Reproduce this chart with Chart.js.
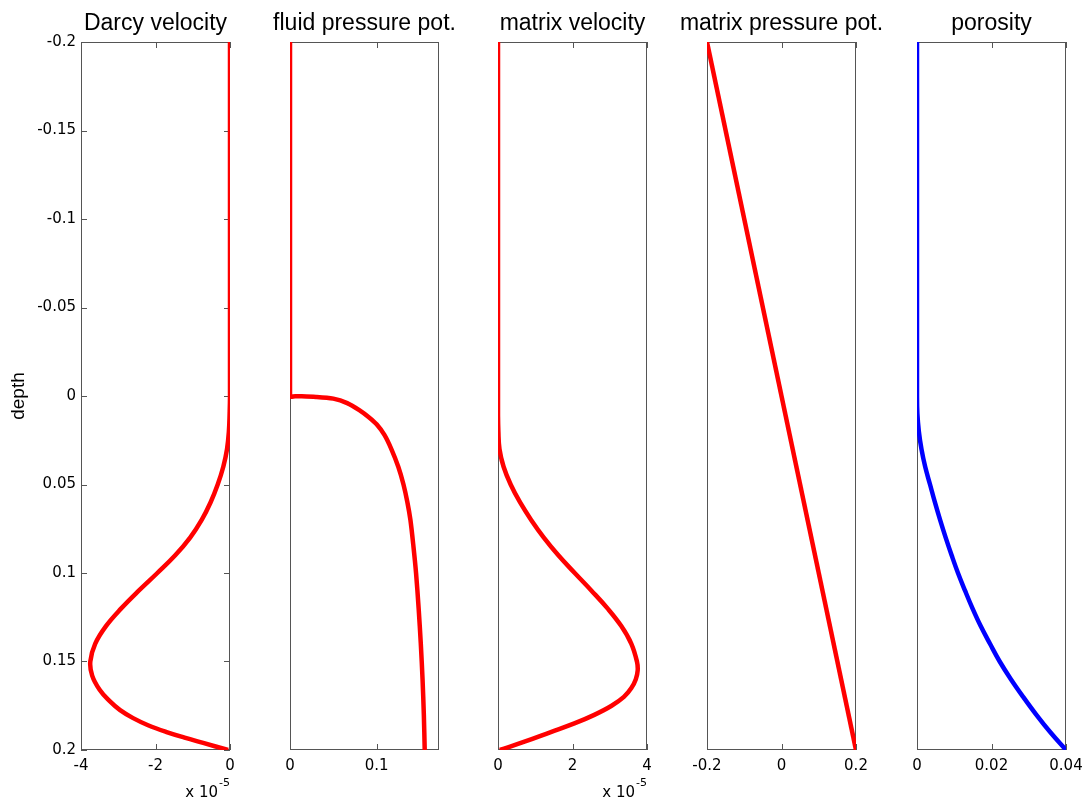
<!DOCTYPE html>
<html>
<head>
<meta charset="utf-8">
<script src="https://cdn.jsdelivr.net/npm/chart.js@4/dist/chart.umd.min.js"></script>
<style>
  body { margin: 0; background: #fff; overflow: hidden; width: 1088px; height: 806px; position: relative; }
  canvas { position: absolute; top: 0; }
</style>
</head>
<body>
<script>
// depth axis, shared by all panels (reversed: -0.2 at the top)
const depthTicks = [-0.2, -0.15, -0.1, -0.05, 0, 0.05, 0.1, 0.15, 0.2];

// Darcy velocity (units of 1e-5)
const darcyDepth = [-0.2, 0, 0.01, 0.02, 0.03, 0.04, 0.05, 0.06, 0.07, 0.08, 0.09, 0.1, 0.11, 0.12, 0.13, 0.14, 0.15, 0.158, 0.166, 0.172, 0.1775, 0.182, 0.186, 0.19, 0.193, 0.196, 0.2];
const darcyVelocity = [0, 0, -0.01, -0.03, -0.08, -0.18, -0.33, -0.52, -0.76, -1.07, -1.47, -1.95, -2.45, -2.92, -3.33, -3.62, -3.75, -3.7, -3.5, -3.25, -2.95, -2.6, -2.2, -1.68, -1.22, -0.72, -0.05];
const darcyTicks = [-4, -2, 0];

// fluid pressure potential
const fluidDepth = [-0.2, 0, 0.0001, 0.0005, 0.0015, 0.004, 0.008, 0.012, 0.016, 0.022, 0.03, 0.04, 0.05, 0.06, 0.07, 0.085, 0.1, 0.12, 0.14, 0.16, 0.18, 0.2];
const fluidPressure = [0, 0, 0.006, 0.03, 0.05, 0.066, 0.08, 0.091, 0.1, 0.109, 0.117, 0.125, 0.131, 0.1355, 0.139, 0.1425, 0.1455, 0.1485, 0.151, 0.153, 0.1545, 0.1555];
const fluidTicks = [0, 0.1];

// matrix velocity (units of 1e-5)
const matrixDepth = [-0.2, 0, 0.01, 0.02, 0.03, 0.04, 0.05, 0.06, 0.07, 0.08, 0.09, 0.1, 0.11, 0.12, 0.13, 0.14, 0.15, 0.155, 0.16, 0.165, 0.17, 0.175, 0.18, 0.185, 0.19, 0.195, 0.2];
const matrixVelocity = [0, 0, 0, 0.01, 0.04, 0.15, 0.34, 0.59, 0.89, 1.23, 1.62, 2.06, 2.51, 2.94, 3.31, 3.58, 3.73, 3.75, 3.7, 3.58, 3.38, 3.05, 2.6, 2.05, 1.4, 0.75, 0.05];
const matrixVelTicks = [0, 2, 4];

// matrix pressure potential
const matrixPresDepth = [-0.2, 0.2];
const matrixPressure = [-0.2, 0.2];
const matrixPresTicks = [-0.2, 0, 0.2];

// porosity
const porosityDepth = [-0.2, 0, 0.01, 0.02, 0.03, 0.04, 0.05, 0.06, 0.07, 0.08, 0.09, 0.1, 0.11, 0.12, 0.13, 0.14, 0.15, 0.16, 0.17, 0.18, 0.19, 0.2];
const porosity = [0, 0, 0.0001, 0.0005, 0.0012, 0.0022, 0.0035, 0.0048, 0.0062, 0.0077, 0.0093, 0.011, 0.0129, 0.0149, 0.0171, 0.0196, 0.0222, 0.0252, 0.0285, 0.032, 0.0358, 0.04];
const porosityTicks = [0, 0.02, 0.04];

const BOX = '#555';
const TICK_FONT = { family: 'DejaVu Sans', size: 15 };

function fmt(v) {
    return String(Math.round(v * 1e4) / 1e4);
}

//Marco, ticks interiores, título y etiqueta x 10^-5
const panelDeco = {
    id: 'panelDeco',
    beforeDatasetsDraw(chart, args, opts) {
        const { ctx, chartArea: a, scales } = chart;
        ctx.save();
        ctx.strokeStyle = BOX;
        ctx.lineWidth = 1;
        ctx.strokeRect(a.left + 0.5, a.top + 0.5, a.right - a.left - 1, a.bottom - a.top - 1);
        ctx.beginPath();
        scales.x.ticks.forEach(t => {
            const px = Math.round(scales.x.getPixelForValue(t.value)) + 0.5;
            ctx.moveTo(px, a.top); ctx.lineTo(px, a.top + 6);
            ctx.moveTo(px, a.bottom); ctx.lineTo(px, a.bottom - 6);
        });
        if (opts.yTicks) {
            scales.y.ticks.forEach(t => {
                const py = Math.round(scales.y.getPixelForValue(t.value)) + 0.5;
                ctx.moveTo(a.left, py); ctx.lineTo(a.left + 6, py);
                ctx.moveTo(a.right, py); ctx.lineTo(a.right - 6, py);
            });
        }
        ctx.stroke();
        ctx.restore();
    },
    afterDraw(chart, args, opts) {
        const { ctx, chartArea: a } = chart;
        ctx.save();
        ctx.fillStyle = '#000';
        ctx.textAlign = 'center';
        ctx.textBaseline = 'alphabetic';
        ctx.font = '23px "Liberation Sans"';
        ctx.fillText(opts.title, (a.left + a.right) / 2, 30);
        if (opts.sci) {
            ctx.textAlign = 'right';
            ctx.font = '11px "DejaVu Sans"';
            const w = ctx.measureText('-5').width;
            ctx.fillText('-5', a.right, 786);
            ctx.font = '15px "DejaVu Sans"';
            ctx.fillText('x 10', a.right - w - 1, 797);
        }
        ctx.restore();
    }
};

const panels = [
    { title: 'Darcy velocity', left: 81, depth: darcyDepth, values: darcyVelocity, min: -4, max: 0, ticks: darcyTicks, sci: true, showY: true, color: '#ff0000', tension: 0.4 },
    { title: 'fluid pressure pot.', left: 290, depth: fluidDepth, values: fluidPressure, min: 0, max: 0.172, ticks: fluidTicks, sci: false, showY: false, color: '#ff0000', tension: 0.3 },
    { title: 'matrix velocity', left: 498, depth: matrixDepth, values: matrixVelocity, min: 0, max: 4, ticks: matrixVelTicks, sci: true, showY: false, color: '#ff0000', tension: 0.4 },
    { title: 'matrix pressure pot.', left: 707, depth: matrixPresDepth, values: matrixPressure, min: -0.2, max: 0.2, ticks: matrixPresTicks, sci: false, showY: false, color: '#ff0000', tension: 0 },
    { title: 'porosity', left: 917, depth: porosityDepth, values: porosity, min: 0, max: 0.04, ticks: porosityTicks, sci: false, showY: false, color: '#0000ff', tension: 0.4 }
];

const PLOT_W = 149;
const SIDE = 45;

panels.forEach(p => {
    const padL = p.showY ? 81 : SIDE;
    const canvas = document.createElement('canvas');
    canvas.width = padL + PLOT_W + SIDE;
    canvas.height = 806;
    canvas.style.left = (p.left - padL) + 'px';
    document.body.appendChild(canvas);

    new Chart(canvas, {
        type: 'scatter',
        data: {
            datasets: [{
                data: p.depth.map((d, i) => ({ x: p.values[i], y: d })),
                showLine: true,
                borderColor: p.color,
                borderWidth: 4.5,
                pointRadius: 0,
                tension: p.tension,
                fill: false
            }]
        },
        plugins: [panelDeco],
        options: {
            responsive: false,
            animation: false,
            events: [],
            layout: { padding: { top: 42, left: p.showY ? 0 : SIDE, right: SIDE, bottom: 0 } },
            plugins: {
                legend: { display: false },
                tooltip: { enabled: false },
                panelDeco: { title: p.title, sci: p.sci, yTicks: p.showY }
            },
            scales: {
                x: {
                    type: 'linear',
                    min: p.min,
                    max: p.max,
                    grid: { display: false, drawTicks: false },
                    border: { display: false },
                    afterBuildTicks: ax => { ax.ticks = p.ticks.map(v => ({ value: v })); },
                    afterFit: ax => { ax.height = 56; },
                    ticks: { autoSkip: false, maxRotation: 0, padding: 7, color: '#000', font: TICK_FONT, callback: v => fmt(v) }
                },
                y: {
                    type: 'linear',
                    reverse: true,
                    min: -0.2,
                    max: 0.2,
                    display: p.showY,
                    grid: { display: false, drawTicks: false },
                    border: { display: false },
                    afterBuildTicks: ax => { ax.ticks = depthTicks.map(v => ({ value: v })); },
                    afterFit: ax => { if (p.showY) ax.width = 81; },
                    ticks: { autoSkip: false, padding: 5, color: '#000', font: TICK_FONT, callback: v => fmt(v) },
                    title: { display: true, text: 'depth', color: '#000', font: { family: 'Liberation Sans', size: 19 }, padding: { top: 7, bottom: 0 } }
                }
            }
        }
    });
});
</script>
</body>
</html>
